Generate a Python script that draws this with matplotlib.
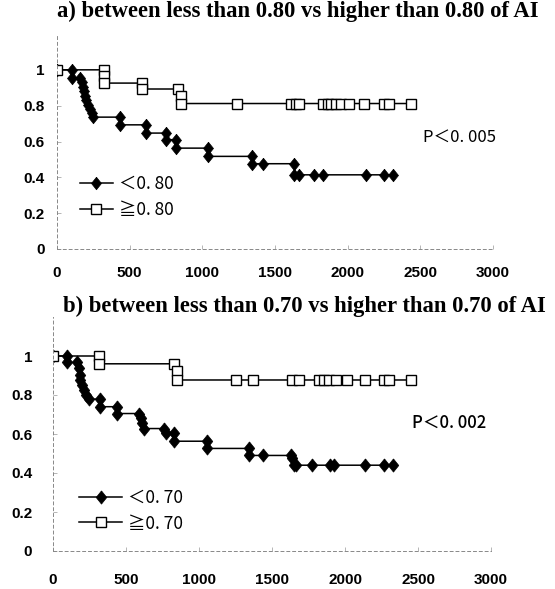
#!/usr/bin/env python3
"""
Kaplan-Meier 風格的生存曲線 (兩組比較)
a) AI < 0.80 vs >= 0.80
b) AI < 0.70 vs >= 0.70
"""

import matplotlib
matplotlib.use("Agg")
import matplotlib.pyplot as plt

# ---- 資料 (從圖上讀取的估計值) ----
# a) <0.80
a_low_t = [0, 100, 100, 161, 172, 179, 188, 195, 202, 211, 225, 238, 248,
           434, 434, 614, 614, 750, 750, 821, 821, 1037, 1037, 1343, 1343,
           1418, 1634, 1634, 1664, 1768, 1832, 2124, 2250, 2315]
a_low_s = [1.0, 1.0, 0.954, 0.954, 0.93, 0.905, 0.88, 0.855, 0.83, 0.805,
           0.78, 0.758, 0.736, 0.736, 0.693, 0.693, 0.647, 0.647, 0.61,
           0.61, 0.563, 0.563, 0.517, 0.517, 0.476, 0.476, 0.476, 0.414,
           0.414, 0.414, 0.414, 0.414, 0.414, 0.414]
# a) >=0.80
a_high_t = [0, 321, 321, 321, 586, 586, 832, 850, 850, 1241, 1609, 1643,
            1666, 1828, 1862, 1885, 1919, 1954, 2011, 2110, 2253, 2287, 2437]
a_high_s = [1.0, 1.0, 0.963, 0.926, 0.926, 0.893, 0.893, 0.855, 0.812,
            0.812, 0.812, 0.812, 0.812, 0.812, 0.812, 0.812, 0.812, 0.812,
            0.812, 0.812, 0.812, 0.812, 0.812]

# b) <0.70
b_low_t = [0, 97, 97, 166, 177, 184, 188, 200, 211, 229, 245, 325, 325,
           440, 440, 588, 600, 611, 622, 759, 775, 828, 828, 1056, 1056,
           1341, 1341, 1440, 1630, 1640, 1648, 1665, 1775, 1900, 1923,
           2136, 2266, 2330]
b_low_s = [1.0, 1.0, 0.967, 0.967, 0.937, 0.902, 0.877, 0.851, 0.825, 0.80,
           0.779, 0.779, 0.74, 0.74, 0.705, 0.705, 0.68, 0.654, 0.628,
           0.628, 0.603, 0.603, 0.563, 0.563, 0.526, 0.526, 0.49, 0.49,
           0.49, 0.475, 0.44, 0.44, 0.44, 0.44, 0.44, 0.44, 0.44, 0.44]
# b) >=0.70
b_high_t = [0, 314, 314, 828, 851, 851, 1250, 1369, 1638, 1684, 1821, 1855,
            1889, 1935, 2015, 2140, 2269, 2303, 2449]
b_high_s = [1.0, 1.0, 0.96, 0.96, 0.923, 0.877, 0.877, 0.877, 0.877, 0.877,
            0.877, 0.877, 0.877, 0.877, 0.877, 0.877, 0.877, 0.877, 0.877]

x_ticks = [0, 500, 1000, 1500, 2000, 2500, 3000]
y_ticks = [0, 0.2, 0.4, 0.6, 0.8, 1.0]
y_tick_labels = ["0", "0.2", "0.4", "0.6", "0.8", "1"]

titles = ["a) between less than 0.80 vs higher than 0.80 of AI",
          "b) between less than 0.70 vs higher than 0.70 of AI"]
legend_labels = [("＜0. 80", "≧0. 80"), ("＜0. 70", "≧0. 70")]
p_labels = ["P＜0. 005", "P＜0. 002"]

CJK = ["Noto Sans CJK JP", "DejaVu Sans"]

# 稍微瘦長的菱形
DIAMOND = [(0, 1), (0.8, 0), (0, -1), (-0.8, 0), (0, 1)]


def draw_panel(ax, low_t, low_s, high_t, high_s, labels, p_text, p_pos,
               p_weight, leg_pos, handle_len, ypad, xpad, dsize):
    """畫一個面板"""
    l1, = ax.plot(low_t, low_s, color="black", lw=1.1, marker=DIAMOND,
                  markersize=dsize, markerfacecolor="black",
                  markeredgecolor="black", markeredgewidth=0.5)
    l2, = ax.plot(high_t, high_s, color="black", lw=1.1, marker="s",
                  markersize=7.5, markerfacecolor="white",
                  markeredgecolor="black", markeredgewidth=1.0)

    ax.set_xlim(0, 3000)
    ax.set_ylim(0, 1.2)
    ax.set_xticks(x_ticks)
    ax.set_xticklabels([str(t) for t in x_ticks])
    ax.set_yticks(y_ticks)
    ax.set_yticklabels(y_tick_labels)

    for lab in ax.get_xticklabels() + ax.get_yticklabels():
        lab.set_family("Liberation Sans")
        lab.set_weight("bold")
        lab.set_fontsize(11)

    ax.tick_params(axis="both", length=3, width=0.6, color="#aaaaaa",
                   direction="in")
    ax.tick_params(axis="y", pad=ypad)
    ax.tick_params(axis="x", pad=xpad)

    for side in ["top", "right"]:
        ax.spines[side].set_visible(False)
    for side in ["left", "bottom"]:
        ax.spines[side].set_linestyle((0, (3, 3)))
        ax.spines[side].set_color("#888888")
        ax.spines[side].set_linewidth(0.7)

    leg = ax.legend([l1, l2], labels, loc="upper left", bbox_to_anchor=leg_pos,
                    frameon=False, numpoints=1, handlelength=handle_len,
                    handletextpad=0.35, borderpad=0, borderaxespad=0,
                    labelspacing=0.45, prop={"family": CJK, "size": 12.5})

    ax.text(p_pos[0], p_pos[1], p_text, family=CJK, fontsize=12,
            weight=p_weight, ha="left", va="center")
    return leg


fig = plt.figure(figsize=(5.55, 5.89), dpi=100)

ax_a = fig.add_axes([57 / 555, 1 - 249 / 589, 436 / 555, 215 / 589])
ax_b = fig.add_axes([53 / 555, 1 - 551 / 589, 438 / 555, 234 / 589])

draw_panel(ax_a, a_low_t, a_low_s, a_high_t, a_high_s, legend_labels[0],
           p_labels[0], (2520, 0.625), "normal", (0.052, 0.343), 1.9,
           9, 12, 9.0)
draw_panel(ax_b, b_low_t, b_low_s, b_high_t, b_high_s, legend_labels[1],
           p_labels[1], (2460, 0.657), "medium", (0.059, 0.266), 2.5,
           15, 16, 9.5)

# 標題
fig.text(57 / 555, 1 - 17 / 589, titles[0], family="Liberation Serif",
         weight="bold", fontsize=16.3, ha="left", va="baseline")
fig.text(63 / 555, 1 - 312 / 589, titles[1], family="Liberation Serif",
         weight="bold", fontsize=16.3, ha="left", va="baseline")

fig.savefig("out.png", dpi=100)
